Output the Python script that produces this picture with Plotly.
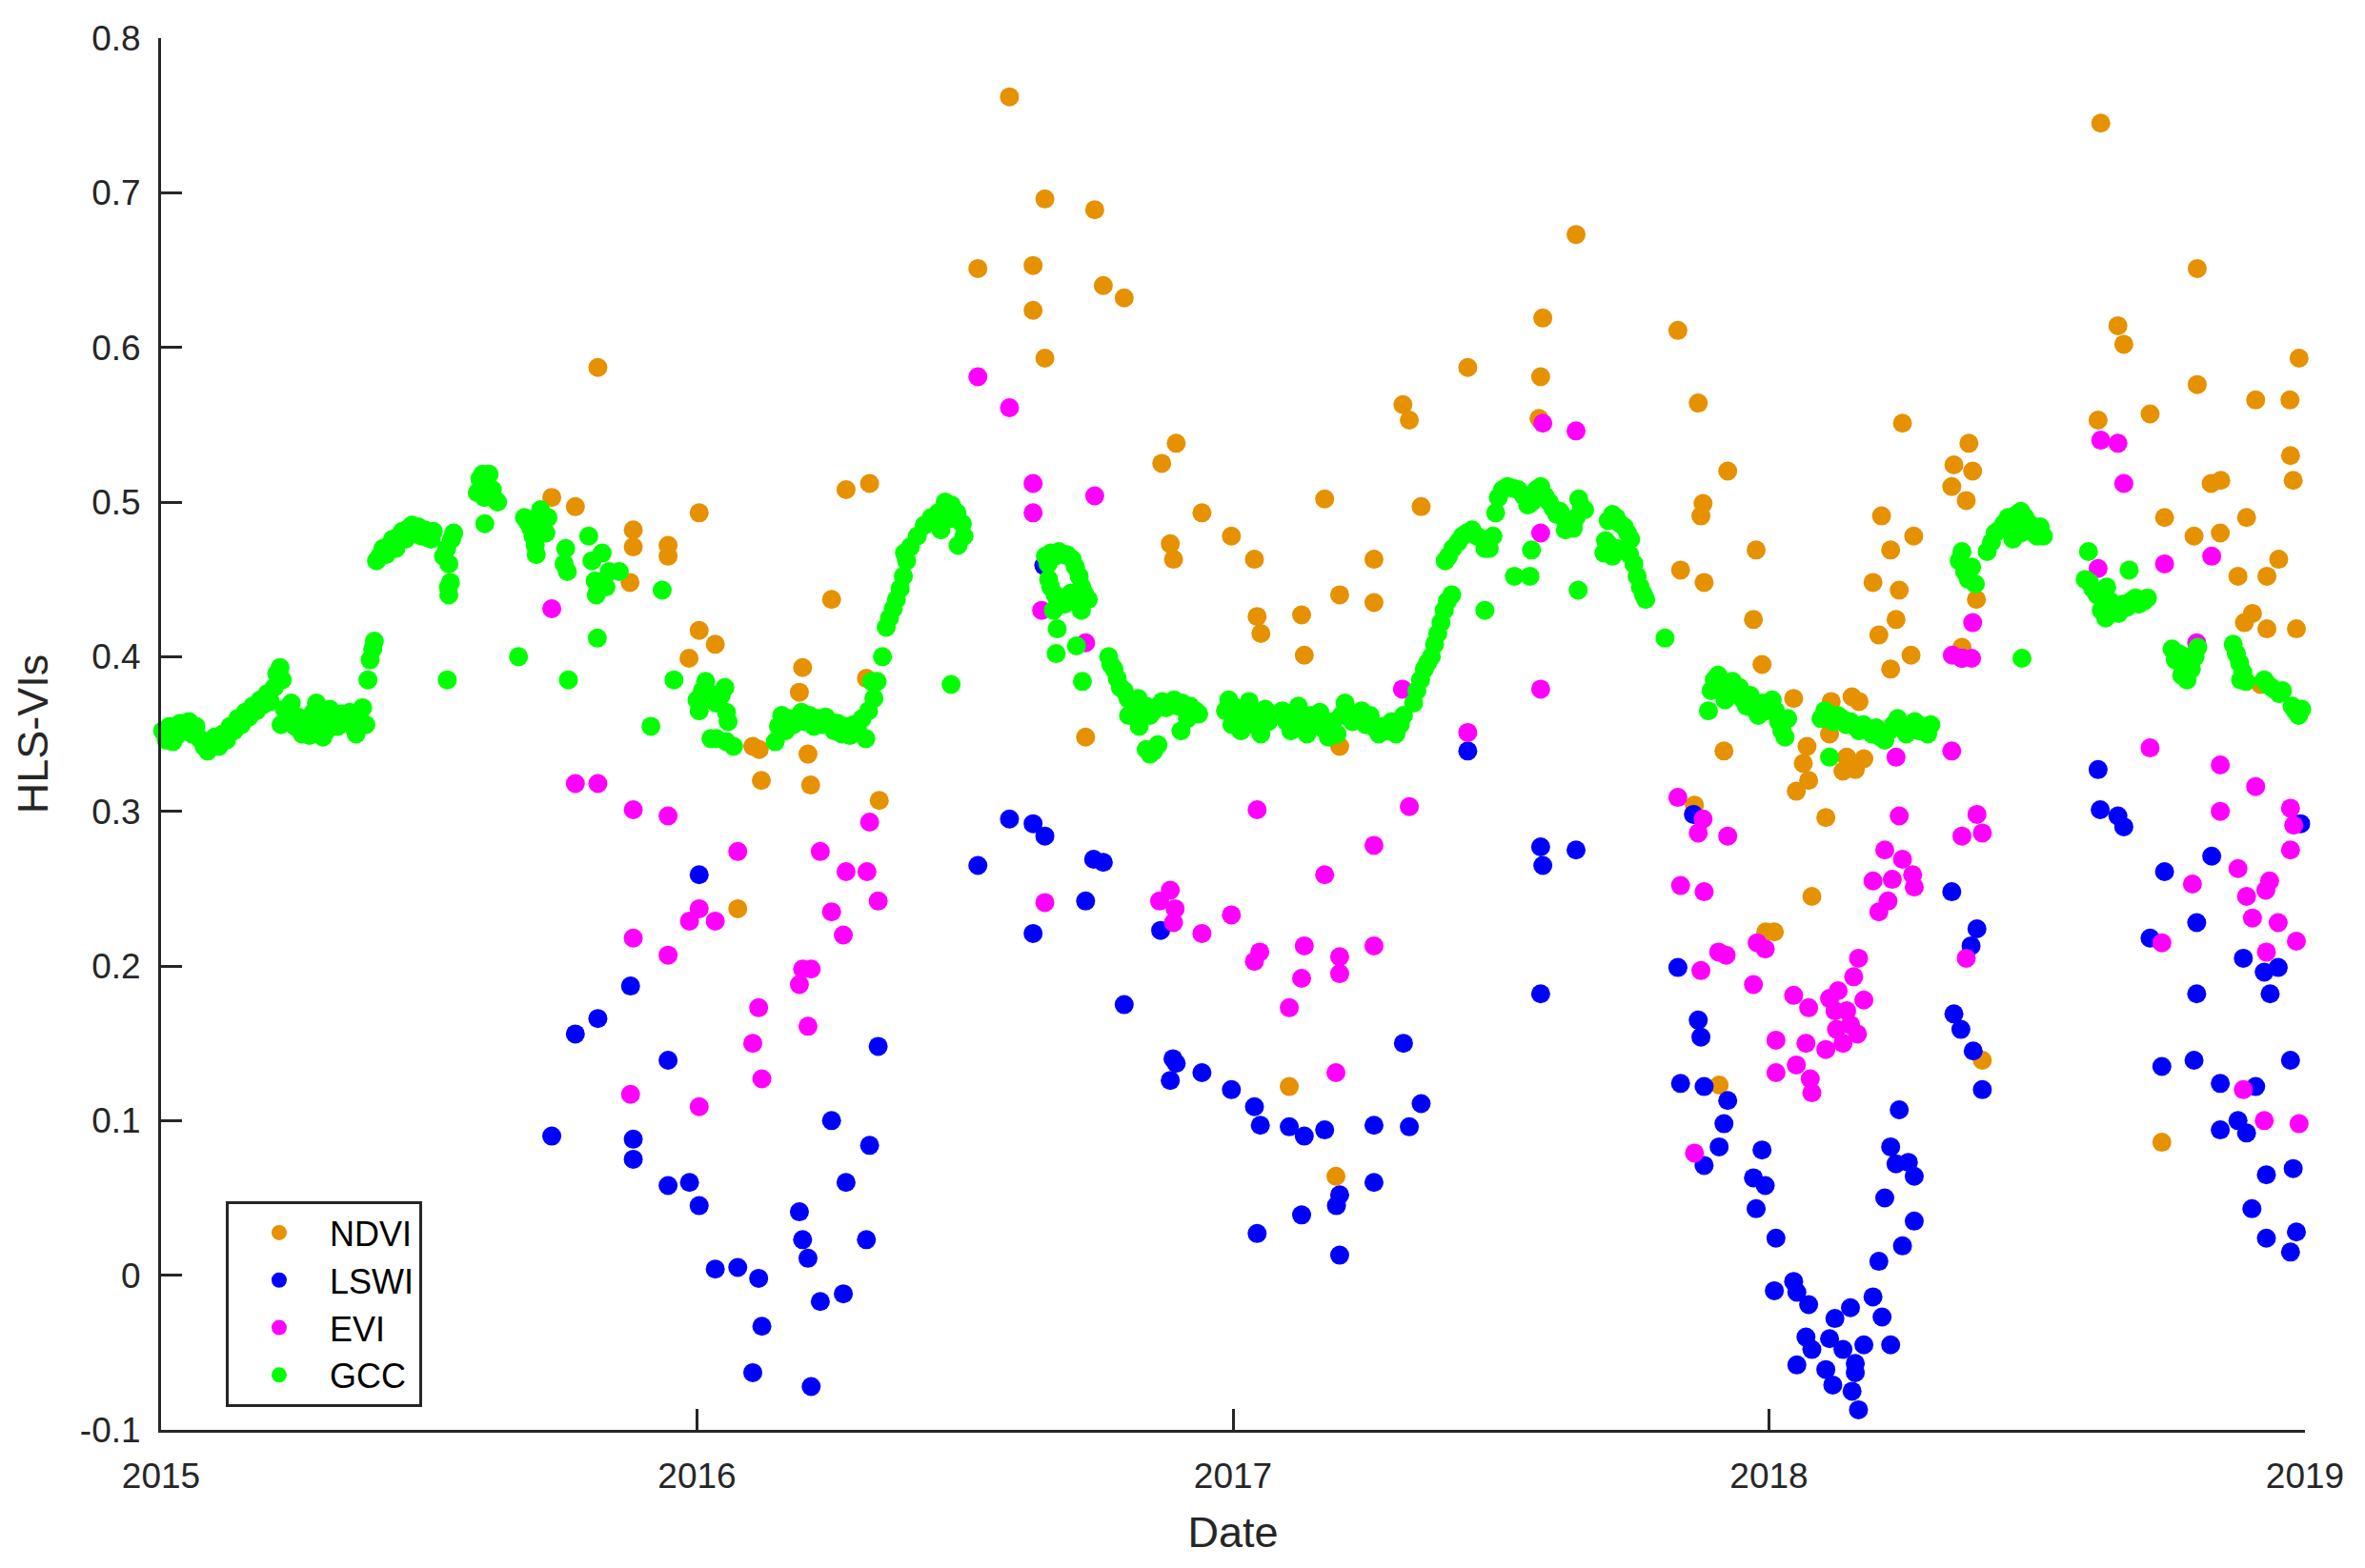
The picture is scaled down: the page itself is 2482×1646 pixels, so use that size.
import plotly.graph_objects as go

# ---------------- data (decimal year, index value) ----------------
ndvi_x = [2015.729, 2015.773, 2015.815, 2015.881, 2015.881, 2015.875, 2015.946, 2015.946, 2016.004, 2016.004,
          2015.985, 2016.583, 2016.649, 2016.742, 2016.524, 2016.627, 2016.758, 2016.797, 2016.627, 2016.649,
          2016.894, 2016.867, 2016.278, 2016.322, 2016.942, 2016.997, 2016.883, 2016.889, 2016.251, 2016.034,
          2016.197, 2016.191, 2016.316, 2016.725, 2016.104, 2016.116, 2016.207, 2016.120, 2016.212, 2016.340,
          2016.076, 2017.640, 2017.578, 2017.830, 2017.438, 2017.574, 2017.317, 2017.329, 2017.571, 2017.868,
          2017.923, 2017.171, 2017.351, 2017.877, 2017.873, 2017.040, 2017.263, 2017.976, 2017.835, 2017.879,
          2017.199, 2017.263, 2017.045, 2017.052, 2017.128, 2017.133, 2017.971, 2017.987, 2017.199, 2017.916,
          2017.861, 2017.994, 2018.010, 2017.105, 2017.192, 2017.907, 2018.619, 2018.799, 2018.651, 2018.662,
          2018.989, 2018.799, 2018.908, 2018.972, 2018.614, 2018.711, 2018.249, 2018.973, 2018.978, 2018.825,
          2018.843, 2018.373, 2018.345, 2018.380, 2018.341, 2018.368, 2018.210, 2018.270, 2018.227, 2018.194,
          2018.243, 2018.237, 2018.205, 2018.265, 2018.227, 2018.387, 2018.360, 2018.738, 2018.793, 2018.842,
          2018.891, 2018.951, 2018.875, 2018.929, 2018.902, 2018.887, 2018.929, 2018.984, 2018.917, 2018.046,
          2018.116, 2018.155, 2018.168, 2018.071, 2018.064, 2018.074, 2018.051, 2018.106, 2018.113, 2018.145,
          2018.177, 2018.138, 2018.161, 2018.080, 2018.398, 2018.733]
ndvi_y = [0.503, 0.497, 0.587, 0.482, 0.471, 0.448, 0.472, 0.465, 0.493, 0.417,
          0.399, 0.762, 0.696, 0.689, 0.651, 0.653, 0.640, 0.632, 0.624, 0.593,
          0.538, 0.525, 0.508, 0.512, 0.493, 0.478, 0.473, 0.463, 0.437, 0.408,
          0.393, 0.377, 0.386, 0.348, 0.342, 0.340, 0.337, 0.320, 0.317, 0.307,
          0.237, 0.673, 0.619, 0.611, 0.587, 0.581, 0.563, 0.553, 0.554, 0.564,
          0.520, 0.502, 0.497, 0.499, 0.491, 0.463, 0.463, 0.469, 0.456, 0.448,
          0.440, 0.435, 0.426, 0.415, 0.427, 0.401, 0.424, 0.395, 0.342, 0.339,
          0.304, 0.222, 0.222, 0.122, 0.064, 0.123, 0.745, 0.651, 0.614, 0.602,
          0.593, 0.576, 0.566, 0.566, 0.553, 0.557, 0.551, 0.530, 0.514, 0.512,
          0.514, 0.538, 0.524, 0.520, 0.510, 0.501, 0.491, 0.478, 0.469, 0.448,
          0.443, 0.424, 0.414, 0.401, 0.392, 0.437, 0.406, 0.490, 0.478, 0.480,
          0.490, 0.463, 0.452, 0.452, 0.428, 0.422, 0.418, 0.418, 0.382, 0.373,
          0.371, 0.374, 0.371, 0.342, 0.331, 0.320, 0.313, 0.296, 0.350, 0.335,
          0.334, 0.326, 0.327, 0.245, 0.139, 0.086]

lswi_x = [2016.004, 2015.876, 2015.815, 2015.773, 2015.946, 2015.729, 2015.881, 2015.881, 2015.946, 2015.986,
          2016.004, 2016.583, 2016.627, 2016.649, 2016.524, 2016.740, 2016.758, 2016.725, 2016.627, 2016.865,
          2016.797, 2016.338, 2016.888, 2016.894, 2016.883, 2016.942, 2016.997, 2016.251, 2016.322, 2016.278,
          2016.191, 2016.197, 2016.207, 2016.316, 2016.034, 2016.076, 2016.115, 2016.273, 2016.230, 2016.121,
          2016.104, 2016.213, 2016.647, 2017.438, 2017.574, 2017.578, 2017.640, 2017.574, 2017.830, 2017.868,
          2017.873, 2017.835, 2017.879, 2017.923, 2017.916, 2017.907, 2017.879, 2017.859, 2017.987, 2017.971,
          2017.993, 2017.976, 2018.013, 2018.010, 2017.318, 2017.351, 2017.040, 2017.051, 2017.105, 2017.133,
          2017.171, 2017.263, 2017.329, 2017.263, 2017.199, 2017.193, 2017.128, 2017.045, 2017.199, 2018.618,
          2018.651, 2018.662, 2018.738, 2018.826, 2018.992, 2018.798, 2018.711, 2018.885, 2018.924, 2018.950,
          2018.798, 2018.935, 2018.341, 2018.388, 2018.377, 2018.345, 2018.358, 2018.381, 2018.398, 2018.733,
          2018.793, 2018.842, 2018.908, 2018.973, 2018.842, 2018.875, 2018.891, 2018.928, 2018.978, 2018.901,
          2018.928, 2018.984, 2018.973, 2018.243, 2018.227, 2018.237, 2018.260, 2018.271, 2018.216, 2018.271,
          2018.249, 2018.205, 2018.046, 2018.052, 2018.074, 2018.152, 2018.123, 2018.194, 2018.211, 2018.069,
          2018.080, 2018.113, 2018.138, 2018.177, 2018.227, 2018.052, 2018.106, 2018.161, 2018.161, 2018.119,
          2018.155, 2018.167, 2018.614, 2018.360]
lswi_y = [0.259, 0.187, 0.166, 0.156, 0.139, 0.090, 0.088, 0.075, 0.058, 0.060,
          0.045, 0.295, 0.292, 0.284, 0.265, 0.269, 0.267, 0.242, 0.221, 0.223,
          0.175, 0.148, 0.140, 0.137, 0.126, 0.131, 0.120, 0.100, 0.084, 0.060,
          0.041, 0.023, 0.011, 0.023, 0.004, 0.005, -0.002, -0.012, -0.017, -0.033,
          -0.063, -0.072, 0.459, 0.339, 0.277, 0.265, 0.275, 0.182, 0.199, 0.165,
          0.154, 0.124, 0.122, 0.113, 0.098, 0.083, 0.071, 0.298, 0.081, 0.063,
          0.058, 0.043, 0.024, -0.010, 0.150, 0.111, 0.109, 0.097, 0.096, 0.090,
          0.094, 0.097, 0.096, 0.060, 0.052, 0.045, 0.039, 0.027, 0.013, 0.301,
          0.297, 0.290, 0.261, 0.271, 0.292, 0.228, 0.218, 0.205, 0.196, 0.199,
          0.182, 0.182, 0.248, 0.224, 0.213, 0.169, 0.159, 0.145, 0.120, 0.135,
          0.139, 0.124, 0.122, 0.139, 0.094, 0.100, 0.092, 0.065, 0.069, 0.043,
          0.024, 0.028, 0.015, 0.107, 0.083, 0.072, 0.073, 0.064, 0.050, 0.035,
          0.019, 0.009, -0.004, -0.011, -0.019, -0.021, -0.028, -0.014, -0.027, -0.040,
          -0.048, -0.041, -0.048, -0.045, -0.045, -0.058, -0.061, -0.057, -0.063, -0.071,
          -0.075, -0.087, 0.327, 0.399]

evi_x = [2015.729, 2015.773, 2015.815, 2015.881, 2015.946, 2015.986, 2016.004, 2015.881, 2015.946, 2015.876,
         2016.004, 2016.034, 2016.076, 2016.230, 2016.322, 2016.278, 2016.317, 2016.338, 2016.251, 2016.273,
         2016.197, 2016.213, 2016.191, 2016.115, 2016.207, 2016.104, 2016.121, 2016.524, 2016.583, 2016.627,
         2016.627, 2016.742, 2016.643, 2016.725, 2016.649, 2016.883, 2016.863, 2016.892, 2016.889, 2016.942,
         2016.997, 2017.045, 2017.329, 2017.263, 2017.171, 2017.050, 2017.040, 2017.133, 2017.128, 2017.199,
         2017.199, 2017.263, 2017.105, 2017.192, 2017.578, 2017.640, 2017.574, 2017.316, 2017.574, 2017.438,
         2017.830, 2017.877, 2017.868, 2017.923, 2017.835, 2017.879, 2017.906, 2017.920, 2017.873, 2017.978,
         2017.993, 2017.971, 2018.013, 2018.013, 2017.861, 2018.243, 2018.388, 2018.360, 2018.398, 2018.216,
         2018.249, 2018.194, 2018.230, 2018.268, 2018.271, 2018.222, 2018.205, 2018.368, 2018.167, 2018.158,
         2018.177, 2018.046, 2018.074, 2018.113, 2018.129, 2018.123, 2018.145, 2018.152, 2018.165, 2018.126,
         2018.138, 2018.106, 2018.069, 2018.051, 2018.077, 2018.080, 2018.908, 2018.842, 2018.973, 2018.979,
         2018.973, 2018.875, 2018.790, 2018.934, 2018.927, 2018.891, 2018.902, 2018.950, 2018.984, 2018.733,
         2018.928, 2018.885, 2018.924, 2018.989, 2018.619, 2018.651, 2018.662, 2018.614, 2018.738, 2018.826,
         2018.798, 2018.711, 2018.842, 2018.380, 2018.342, 2018.360, 2018.378, 2018.237, 2018.341]
evi_y = [0.431, 0.318, 0.318, 0.301, 0.297, 0.229, 0.237, 0.218, 0.207, 0.117,
         0.109, 0.229, 0.274, 0.274, 0.293, 0.261, 0.261, 0.242, 0.235, 0.220,
         0.198, 0.198, 0.188, 0.173, 0.161, 0.150, 0.127, 0.581, 0.561, 0.512,
         0.493, 0.504, 0.430, 0.409, 0.241, 0.249, 0.242, 0.237, 0.228, 0.221,
         0.233, 0.301, 0.303, 0.278, 0.259, 0.209, 0.203, 0.213, 0.192, 0.206,
         0.195, 0.213, 0.173, 0.131, 0.551, 0.546, 0.480, 0.379, 0.379, 0.351,
         0.309, 0.295, 0.286, 0.284, 0.252, 0.248, 0.209, 0.207, 0.197, 0.215,
         0.211, 0.188, 0.152, 0.131, 0.079, 0.297, 0.298, 0.284, 0.286, 0.275,
         0.269, 0.255, 0.256, 0.259, 0.251, 0.242, 0.235, 0.205, 0.205, 0.193,
         0.178, 0.181, 0.173, 0.179, 0.184, 0.171, 0.171, 0.162, 0.156, 0.159,
         0.150, 0.146, 0.150, 0.136, 0.127, 0.118, 0.316, 0.300, 0.302, 0.291,
         0.275, 0.263, 0.253, 0.255, 0.249, 0.245, 0.231, 0.228, 0.216, 0.215,
         0.209, 0.120, 0.100, 0.098, 0.540, 0.538, 0.512, 0.457, 0.460, 0.465,
         0.409, 0.341, 0.330, 0.422, 0.401, 0.399, 0.399, 0.335, 0.339]

gcc_x = [
    # 2015 Jan-May
    2015.003, 2015.010, 2015.016, 2015.022, 2015.029, 2015.036, 2015.045, 2015.052, 2015.058, 2015.065,
    2015.072, 2015.080, 2015.087, 2015.094, 2015.100, 2015.108, 2015.115, 2015.122, 2015.129, 2015.136,
    2015.143, 2015.150, 2015.157, 2015.164, 2015.171, 2015.178, 2015.185, 2015.191, 2015.198, 2015.204,
    2015.211, 2015.216, 2015.222, 2015.226, 2015.224, 2015.230, 2015.236, 2015.243, 2015.250, 2015.256,
    2015.263, 2015.270, 2015.277, 2015.284, 2015.290, 2015.296, 2015.302, 2015.308, 2015.315, 2015.322,
    2015.330, 2015.338, 2015.345, 2015.352, 2015.358, 2015.364, 2015.370, 2015.376, 2015.382,
    2015.386, 2015.390, 2015.395, 2015.398,
    # 2015 summer / autumn
    2015.402, 2015.408, 2015.414, 2015.420, 2015.426, 2015.432, 2015.438, 2015.444, 2015.450, 2015.456,
    2015.462, 2015.468, 2015.474, 2015.480, 2015.486, 2015.492, 2015.498, 2015.504, 2015.508,
    2015.527, 2015.533, 2015.537, 2015.542, 2015.546, 2015.540, 2015.537, 2015.536, 2015.534,
    2015.590, 2015.595, 2015.600, 2015.606, 2015.612, 2015.618, 2015.622, 2015.628, 2015.603, 2015.604,
    2015.667, 2015.678, 2015.684, 2015.690, 2015.694, 2015.698, 2015.700, 2015.703, 2015.708, 2015.713,
    2015.718, 2015.722, 2015.752, 2015.755, 2015.758, 2015.760,
    2015.798, 2015.804, 2015.810, 2015.823, 2015.836, 2015.855, 2015.812, 2015.830, 2015.814,
    2015.914, 2015.935, 2015.957,
    # 2016
    2016.000, 2016.004, 2016.010, 2016.016, 2016.025, 2016.035, 2016.045, 2016.052, 2016.055, 2016.058,
    2016.026, 2016.036, 2016.055, 2016.068,
    2016.146, 2016.152, 2016.158, 2016.165, 2016.172, 2016.180, 2016.188, 2016.195, 2016.202, 2016.210,
    2016.218, 2016.226, 2016.233, 2016.240, 2016.248, 2016.256, 2016.262, 2016.270, 2016.278, 2016.285,
    2016.292, 2016.300, 2016.308, 2016.315, 2016.320, 2016.326, 2016.330, 2016.336,
    2016.346, 2016.353, 2016.359, 2016.366, 2016.372, 2016.379, 2016.385, 2016.391, 2016.387, 2016.398,
    2016.411, 2016.424, 2016.437, 2016.450, 2016.463, 2016.475, 2016.485, 2016.495, 2016.498, 2016.487,
    2016.470, 2016.455, 2016.474,
    2016.650, 2016.655, 2016.660, 2016.668, 2016.675, 2016.683, 2016.690, 2016.700, 2016.706, 2016.713,
    2016.718, 2016.724, 2016.730, 2016.717, 2016.708, 2016.697, 2016.686, 2016.676, 2016.668, 2016.660,
    2016.656, 2016.665, 2016.672, 2016.670, 2016.708, 2016.719,
    2016.768, 2016.772, 2016.778, 2016.784, 2016.790, 2016.797, 2016.804, 2016.810, 2016.817, 2016.823,
    2016.830, 2016.838, 2016.845, 2016.852, 2016.860, 2016.868, 2016.875, 2016.883, 2016.890, 2016.897,
    2016.905, 2016.912, 2016.920, 2016.930, 2016.936, 2016.805, 2016.825, 2016.838, 2016.845, 2016.852,
    2016.860, 2016.903, 2016.915, 2016.986, 2016.992, 2016.998,
    # 2017
    2017.000, 2017.008, 2017.015, 2017.022, 2017.030, 2017.038, 2017.045, 2017.052, 2017.060, 2017.066,
    2017.092, 2017.100, 2017.108, 2017.115, 2017.122, 2017.130, 2017.138, 2017.146, 2017.154, 2017.162,
    2017.170, 2017.178, 2017.186, 2017.194, 2017.202, 2017.209, 2017.216, 2017.223, 2017.240, 2017.248,
    2017.256, 2017.264, 2017.272, 2017.280, 2017.288, 2017.296, 2017.304, 2017.312, 2017.318,
    2017.337, 2017.343, 2017.350, 2017.357, 2017.363, 2017.370, 2017.376, 2017.382, 2017.388, 2017.394,
    2017.400, 2017.408,
    2017.396, 2017.402, 2017.410, 2017.420, 2017.428, 2017.436, 2017.446, 2017.455, 2017.465, 2017.470,
    2017.478, 2017.485, 2017.490, 2017.495, 2017.503, 2017.512, 2017.522, 2017.532, 2017.542, 2017.550,
    2017.558, 2017.566, 2017.574, 2017.582, 2017.590, 2017.597, 2017.604, 2017.610, 2017.617, 2017.620,
    2017.628, 2017.635, 2017.640, 2017.645, 2017.650, 2017.656,
    2017.470, 2017.525, 2017.554, 2017.557, 2017.644,
    2017.692, 2017.695, 2017.700, 2017.708, 2017.715, 2017.722, 2017.730, 2017.736, 2017.742, 2017.700,
    2017.708, 2017.716, 2017.740, 2017.748, 2017.754, 2017.760, 2017.766, 2017.770, 2017.806,
    2017.887, 2017.892, 2017.898, 2017.905, 2017.912, 2017.918, 2017.925, 2017.932, 2017.938, 2017.945,
    2017.952, 2017.958, 2017.965, 2017.972, 2017.980, 2017.988, 2017.995, 2018.003,
    # 2018
    2018.006, 2018.012, 2018.018, 2018.024, 2018.030, 2018.035,
    2018.097, 2018.104, 2018.112, 2018.120, 2018.128, 2018.136, 2018.144, 2018.152, 2018.160, 2018.168,
    2018.176, 2018.184, 2018.192, 2018.200, 2018.208, 2018.216, 2018.224, 2018.232, 2018.240, 2018.248,
    2018.256, 2018.264, 2018.272, 2018.280, 2018.288, 2018.296, 2018.302, 2018.113,
    2018.355, 2018.360, 2018.365, 2018.372, 2018.378, 2018.385,
    2018.407, 2018.415, 2018.422, 2018.430, 2018.438, 2018.446, 2018.454, 2018.462, 2018.470, 2018.478,
    2018.486, 2018.494, 2018.500, 2018.506, 2018.512, 2018.455, 2018.470, 2018.472,
    2018.596, 2018.590, 2018.598, 2018.604, 2018.612, 2018.620, 2018.628, 2018.630, 2018.636, 2018.645,
    2018.652, 2018.660, 2018.668, 2018.676, 2018.684, 2018.690, 2018.700, 2018.706, 2018.672,
    2018.752, 2018.758, 2018.764, 2018.770, 2018.776, 2018.782, 2018.788, 2018.795, 2018.800, 2018.770,
    2018.780,
    2018.866, 2018.872, 2018.878, 2018.884, 2018.890, 2018.880,
    2018.924, 2018.930, 2018.938, 2018.946, 2018.952, 2018.958,
    2018.976, 2018.982, 2018.988, 2018.994]
gcc_y = [
    0.352, 0.346, 0.355, 0.345, 0.349, 0.357, 0.352, 0.358, 0.350, 0.355,
    0.347, 0.342, 0.339, 0.343, 0.348, 0.342, 0.350, 0.346, 0.355, 0.352,
    0.360, 0.356, 0.364, 0.361, 0.368, 0.365, 0.372, 0.369, 0.376, 0.371,
    0.380, 0.389, 0.393, 0.385, 0.356, 0.366, 0.362, 0.370, 0.355, 0.361,
    0.350, 0.357, 0.349, 0.364, 0.370, 0.357, 0.348, 0.352, 0.366, 0.360,
    0.355, 0.363, 0.358, 0.364, 0.355, 0.350, 0.360, 0.367, 0.356,
    0.385, 0.398, 0.405, 0.410,
    0.462, 0.465, 0.470, 0.466, 0.472, 0.476, 0.470, 0.478, 0.481, 0.476,
    0.483, 0.485, 0.480, 0.484, 0.478, 0.482, 0.477, 0.476, 0.481,
    0.465, 0.470, 0.460, 0.476, 0.480, 0.448, 0.440, 0.445, 0.385,
    0.506, 0.515, 0.518, 0.512, 0.518, 0.508, 0.502, 0.500, 0.503, 0.486,
    0.400, 0.490, 0.487, 0.483, 0.478, 0.472, 0.466, 0.490, 0.495, 0.485,
    0.480, 0.490, 0.460, 0.470, 0.455, 0.385,
    0.478, 0.462, 0.449, 0.467, 0.455, 0.455, 0.440, 0.445, 0.412,
    0.355, 0.443, 0.385,
    0.372, 0.365, 0.378, 0.384, 0.376, 0.370, 0.375, 0.380, 0.364, 0.358,
    0.347, 0.347, 0.345, 0.342,
    0.345, 0.355, 0.362, 0.352, 0.360, 0.356, 0.360, 0.364, 0.358, 0.362,
    0.355, 0.360, 0.356, 0.361, 0.358, 0.352, 0.357, 0.350, 0.355, 0.349,
    0.356, 0.352, 0.360, 0.347, 0.365, 0.384, 0.373, 0.384,
    0.400, 0.419, 0.425, 0.431, 0.437, 0.444, 0.452, 0.462, 0.467, 0.471,
    0.478, 0.485, 0.490, 0.493, 0.500, 0.498, 0.493, 0.486, 0.478, 0.472,
    0.489, 0.482, 0.382,
    0.465, 0.460, 0.467, 0.465, 0.468, 0.466, 0.466, 0.463, 0.458, 0.452,
    0.445, 0.440, 0.437, 0.430, 0.438, 0.441, 0.434, 0.436, 0.440, 0.445,
    0.450, 0.430, 0.418, 0.402, 0.407, 0.384,
    0.400, 0.395, 0.392, 0.386, 0.380, 0.378, 0.373, 0.371, 0.368, 0.373,
    0.365, 0.368, 0.362, 0.365, 0.368, 0.371, 0.367, 0.370, 0.372, 0.368,
    0.370, 0.365, 0.368, 0.365, 0.363, 0.362, 0.355, 0.340, 0.337, 0.339,
    0.343, 0.352, 0.360, 0.365, 0.372, 0.356,
    0.368, 0.360, 0.352, 0.365, 0.371, 0.356, 0.362, 0.350, 0.366, 0.358,
    0.365, 0.358, 0.352, 0.360, 0.368, 0.356, 0.350, 0.362, 0.358, 0.364,
    0.353, 0.348, 0.358, 0.350, 0.362, 0.370, 0.364, 0.358, 0.365, 0.356,
    0.362, 0.354, 0.350, 0.355, 0.352, 0.358, 0.350, 0.356, 0.362,
    0.370, 0.378, 0.385, 0.392, 0.396, 0.400, 0.408, 0.415, 0.422, 0.430,
    0.436, 0.440,
    0.462, 0.465, 0.470, 0.474, 0.478, 0.480, 0.482, 0.478, 0.476, 0.470,
    0.470, 0.478, 0.493, 0.503, 0.508, 0.510, 0.509, 0.508, 0.504, 0.498,
    0.500, 0.508, 0.510, 0.504, 0.500, 0.496, 0.492, 0.494, 0.490, 0.482,
    0.485, 0.483, 0.490, 0.502, 0.497, 0.495,
    0.430, 0.452, 0.452, 0.469, 0.443,
    0.467, 0.475, 0.488, 0.492, 0.490, 0.486, 0.484, 0.480, 0.476, 0.473,
    0.465, 0.470, 0.466, 0.460, 0.452, 0.445, 0.440, 0.437, 0.412,
    0.365, 0.378, 0.385, 0.388, 0.380, 0.372, 0.378, 0.384, 0.376, 0.380,
    0.372, 0.368, 0.375, 0.366, 0.362, 0.370, 0.365, 0.370,
    0.372, 0.365, 0.358, 0.352, 0.348, 0.360,
    0.360, 0.365, 0.362, 0.358, 0.362, 0.360, 0.356, 0.358, 0.355, 0.352,
    0.356, 0.354, 0.350, 0.354, 0.348, 0.346, 0.352, 0.356, 0.360, 0.354,
    0.350, 0.355, 0.358, 0.352, 0.355, 0.350, 0.356, 0.335,
    0.462, 0.468, 0.455, 0.450, 0.458, 0.447,
    0.468, 0.474, 0.480, 0.482, 0.486, 0.490, 0.488, 0.492, 0.494, 0.490,
    0.486, 0.480, 0.478, 0.484, 0.478, 0.476, 0.480, 0.399,
    0.468, 0.450, 0.448, 0.444, 0.440, 0.430, 0.425, 0.445, 0.436, 0.432,
    0.428, 0.434, 0.432, 0.436, 0.438, 0.434, 0.436, 0.438, 0.456,
    0.405, 0.398, 0.402, 0.395, 0.400, 0.398, 0.392, 0.400, 0.406, 0.388,
    0.385,
    0.408, 0.402, 0.396, 0.390, 0.384, 0.385,
    0.385, 0.382, 0.380, 0.378, 0.376, 0.378,
    0.368, 0.365, 0.362, 0.366]

series = [
    ("NDVI", ndvi_x, ndvi_y, "#E69100"),
    ("LSWI", lswi_x, lswi_y, "#0000FF"),
    ("EVI", evi_x, evi_y, "#FF00FF"),
    ("GCC", gcc_x, gcc_y, "#00FF00"),
]

x_ticks = [2015, 2016, 2017, 2018, 2019]
y_ticks = [-0.1, 0, 0.1, 0.2, 0.3, 0.4, 0.5, 0.6, 0.7, 0.8]
y_ticktext = ["-0.1", "0", "0.1", "0.2", "0.3", "0.4", "0.5", "0.6", "0.7", "0.8"]

FONT = "Liberation Sans, Arial, Helvetica, sans-serif"
INK = "#262626"

fig = go.Figure()
for name, xs, ys, col in series:
    fig.add_trace(go.Scatter(
        x=xs, y=ys, mode="markers", name=name, cliponaxis=False,
        marker=dict(size=20, color=col, line=dict(width=0)),
    ))

fig.update_layout(
    width=2482, height=1646,
    margin=dict(l=161, r=71, t=25, b=153, pad=0),
    paper_bgcolor="white", plot_bgcolor="white",
    font=dict(family=FONT, color=INK, size=37),
    showlegend=True,
    legend=dict(
        x=0.0302, y=0.0164, xanchor="left", yanchor="bottom",
        bgcolor="white", bordercolor=INK, borderwidth=3,
        font=dict(family=FONT, size=36, color="black"),
        itemwidth=96, tracegroupgap=0,
        entrywidth=122, entrywidthmode="pixels",
    ),
)
fig.update_xaxes(
    range=[2015, 2019], tickvals=x_ticks, ticktext=[str(t) for t in x_ticks],
    showgrid=False, zeroline=False, showline=True, linecolor=INK, linewidth=3,
    ticks="inside", ticklen=22, tickwidth=3, tickcolor=INK, mirror=False,
    tickfont=dict(size=37, color=INK, family=FONT), ticklabelstandoff=14,
    title=dict(text="Date", font=dict(size=45, color=INK, family=FONT), standoff=24),
)
fig.update_yaxes(
    range=[-0.1, 0.8], tickvals=y_ticks, ticktext=y_ticktext,
    showgrid=False, zeroline=False, showline=True, linecolor=INK, linewidth=3,
    ticks="inside", ticklen=22, tickwidth=3, tickcolor=INK, mirror=False,
    tickfont=dict(size=37, color=INK, family=FONT), ticklabelstandoff=11,
    title=dict(text="HLS-VIs", font=dict(size=45, color=INK, family=FONT), standoff=20),
)

fig.write_html("out.html")
